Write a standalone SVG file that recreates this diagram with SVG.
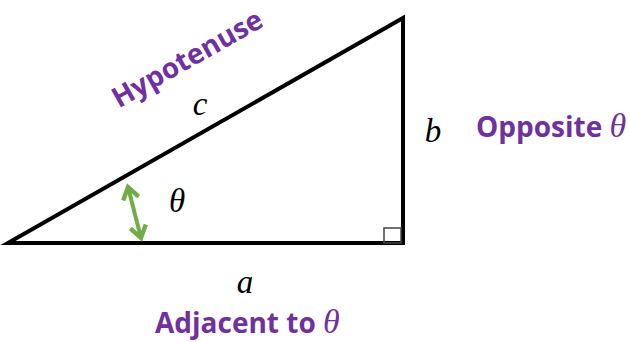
<svg xmlns="http://www.w3.org/2000/svg" width="629" height="342" viewBox="0 0 629 342">
<style>
.lbl{font-family:"Open Sans","Noto Sans",sans-serif;font-weight:bold;fill:#7030A0;font-size:28px}
.var{font-family:"Liberation Serif","DejaVu Serif",serif;font-style:italic;fill:#000;font-size:33px}
.th{font-family:"Liberation Serif","DejaVu Serif",serif;font-style:italic;font-weight:normal;font-size:34px}
</style>
<defs>
<marker id="ah" viewBox="0 0 10 10" refX="7.5" refY="5" markerWidth="5" markerHeight="5" orient="auto-start-reverse" markerUnits="strokeWidth">
<path d="M1.5,1 L7.5,5 L1.5,9" fill="none" stroke="#70AD47" stroke-width="2.2" stroke-linejoin="miter"/>
</marker>
</defs>
<rect width="629" height="342" fill="#fff"/>
<g id="triangle">
<polygon points="8,243 403,18 403,243" fill="none" stroke="#000" stroke-width="4" stroke-linejoin="miter"/>
<rect x="384" y="228" width="17" height="15" fill="none" stroke="#444" stroke-width="1.5"/>
</g>
<g id="connectors">
<line x1="128" y1="187" x2="141" y2="238" stroke="#70AD47" stroke-width="4" marker-start="url(#ah)" marker-end="url(#ah)"/>
</g>
<g id="labels">
<text class="lbl" transform="translate(192,67) rotate(-29.5)" text-anchor="middle">Hypotenuse</text>
<text class="var" x="200" y="115" text-anchor="middle">c</text>
<text class="var" x="177" y="212" text-anchor="middle">θ</text>
<text class="var" x="433" y="142" text-anchor="middle">b</text>
<text class="lbl" x="476" y="137">Opposite <tspan class="th">θ</tspan></text>
<text class="var" x="245" y="293" text-anchor="middle">a</text>
<text class="lbl" x="155" y="333">Adjacent to <tspan class="th">θ</tspan></text>
</g>
</svg>
